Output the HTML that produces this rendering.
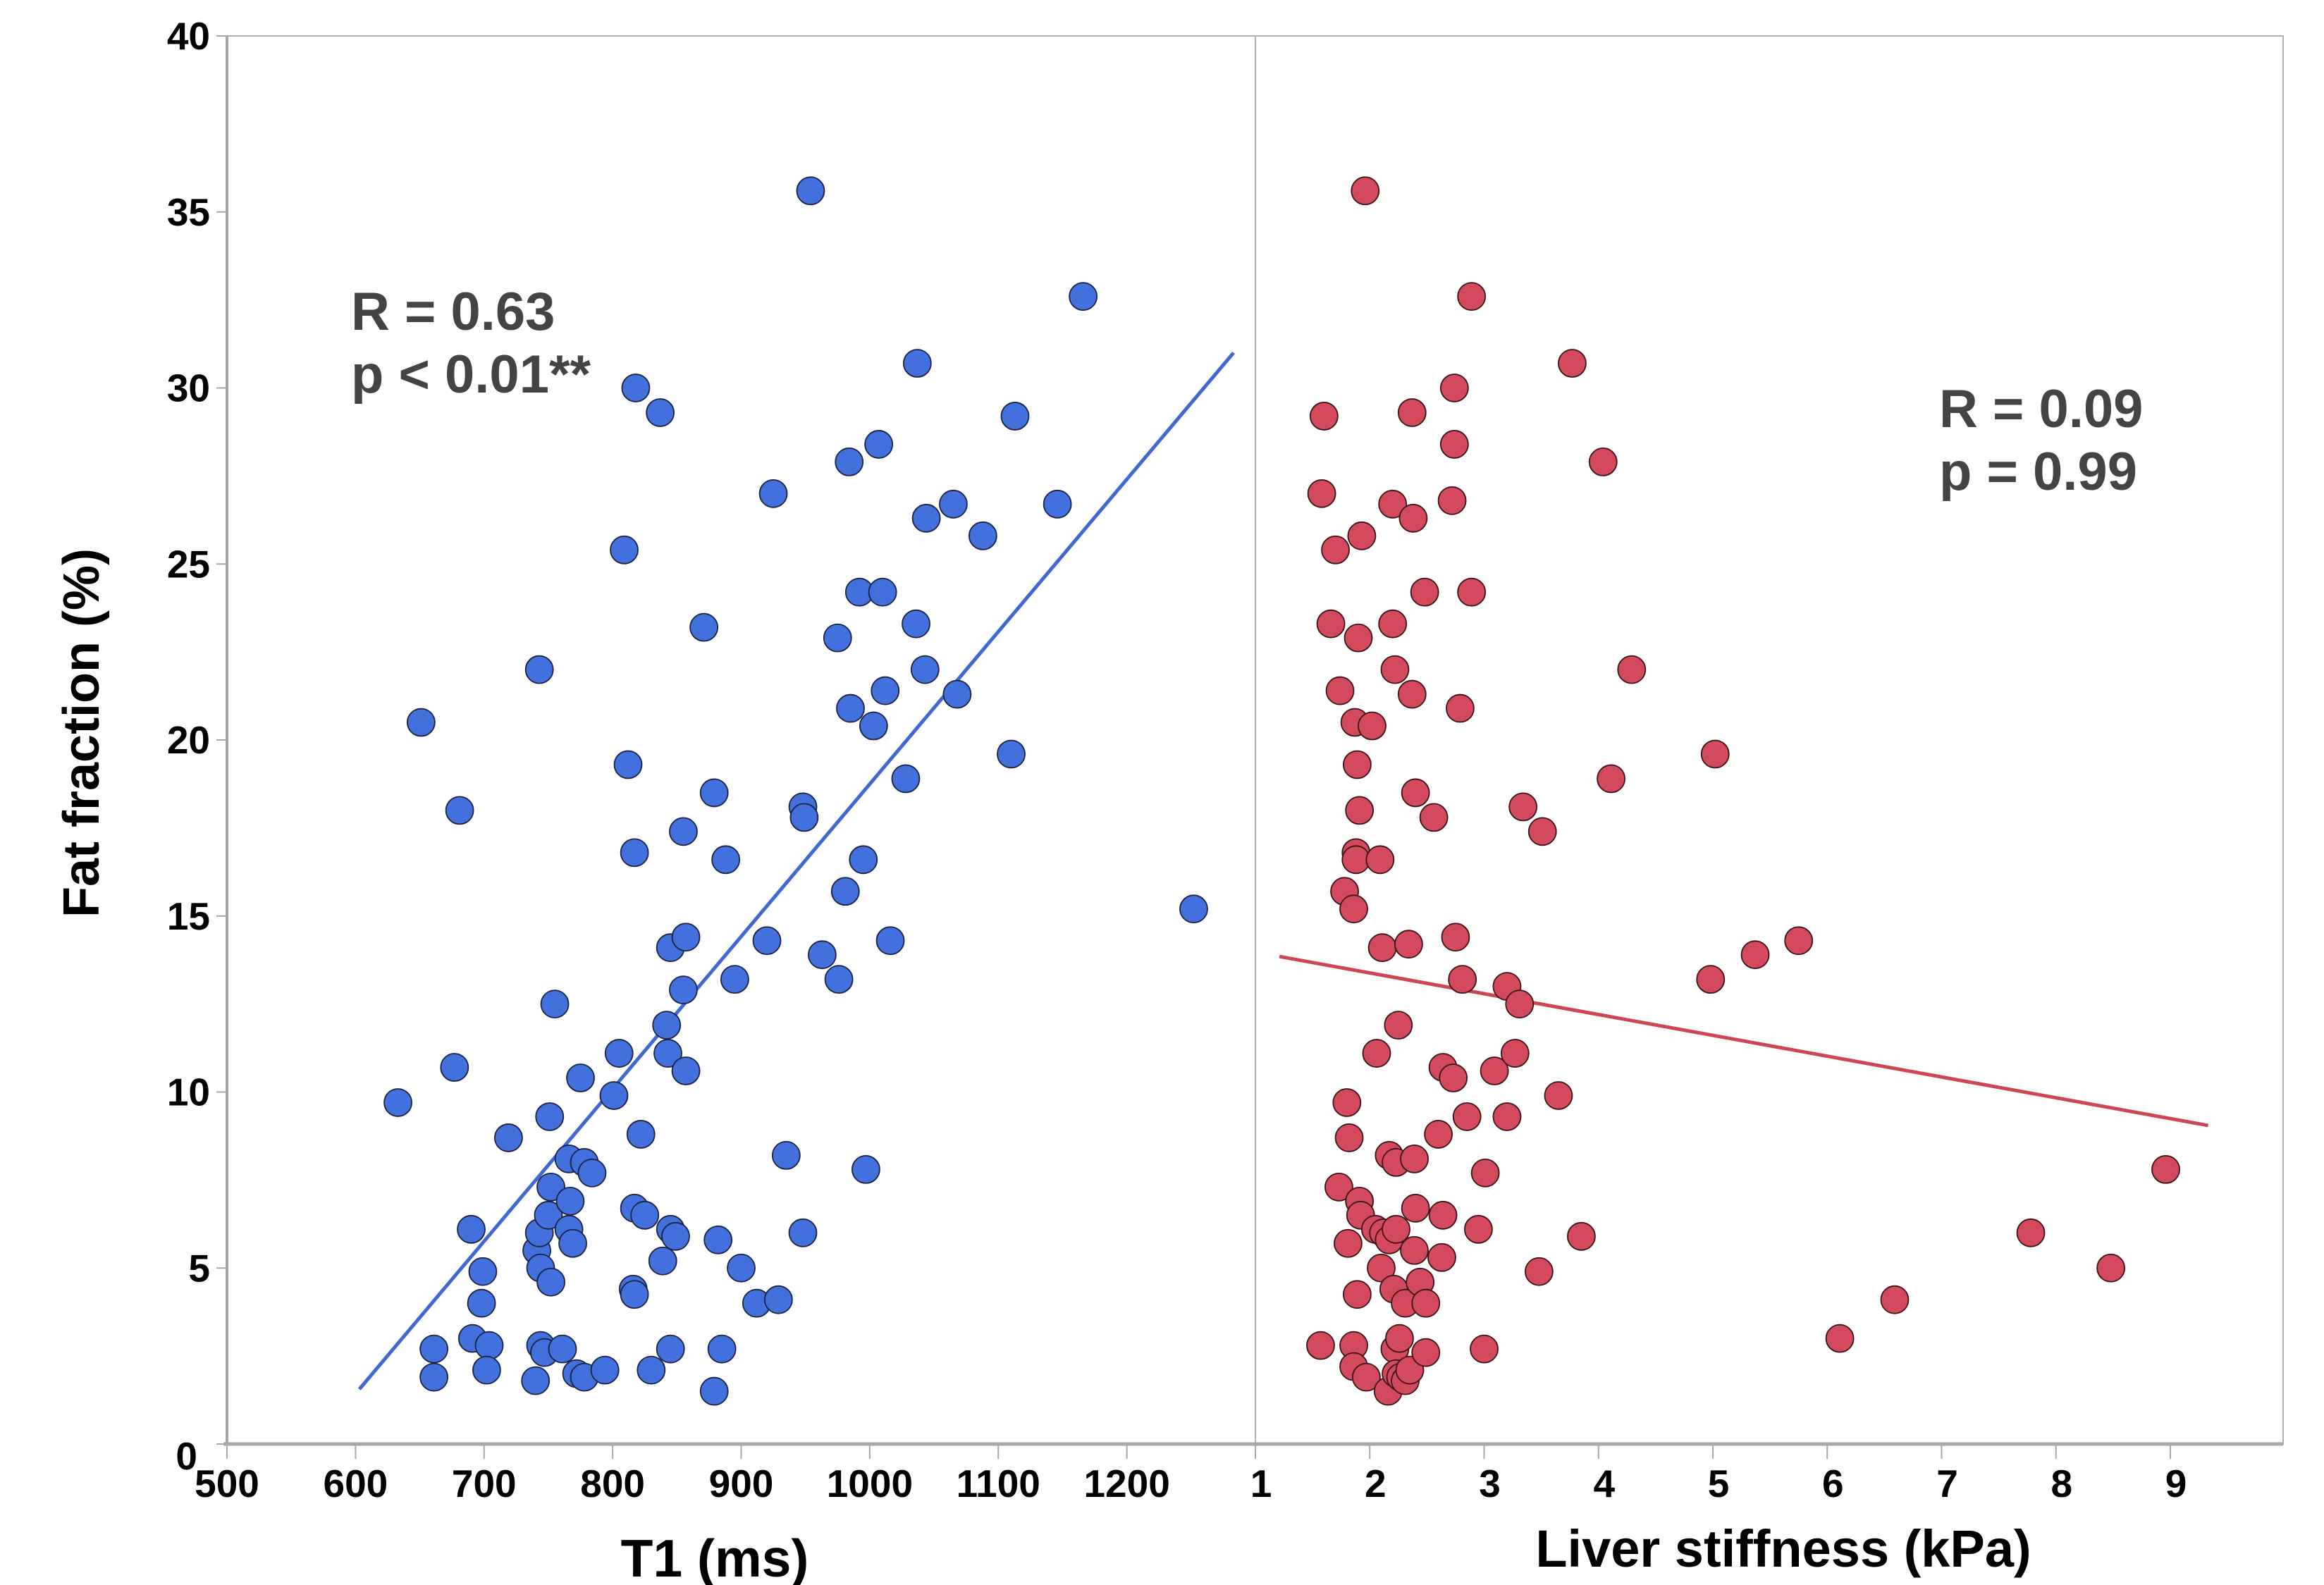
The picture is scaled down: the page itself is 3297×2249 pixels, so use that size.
<!DOCTYPE html>
<html><head><meta charset="utf-8"><style>
html,body{margin:0;padding:0;background:#fff}
svg{display:block}
text{font-family:"Liberation Sans",Arial,sans-serif;font-weight:bold}
</style></head><body>
<svg id="chart" width="3297" height="2249" viewBox="0 0 3297 2249" xmlns="http://www.w3.org/2000/svg">
<g id="axes"></g>
<g id="lines"></g>
<g id="pts"></g>
<g id="labels"></g>
</svg>
<script>
const t1Values=[633,651,661,661,681,677,690,691,699,698,704,702,719,743,741,743,744,740,744,747,750,751,752,752,755,761,766,767,766,769,772,778,775,778,784,794,801,805,809,812,817,817,818,816,817,822,825,830,837,839,842,843,845,845,849,845,855,855,857,857,871,879,882,879,885,888,895,900,912,920,925,929,935,948,949,948,954,963,975,976,981,984,985,992,995,997,1003,1007,1010,1012,1016,1028,1036,1037,1043,1044,1065,1068,1088,1110,1113,1146,1166,1252];
const t1Fat=[9.7,20.5,1.9,2.7,18,10.7,6.1,3.0,4.9,4.0,2.8,2.1,8.7,22,5.5,6.0,5.0,1.8,2.8,2.6,6.5,9.3,7.3,4.6,12.5,2.7,8.1,6.9,6.1,5.7,2.0,8.0,10.4,1.9,7.7,2.1,9.9,11.1,25.4,19.3,16.8,6.7,30,4.4,4.25,8.8,6.5,2.1,29.3,5.2,11.9,11.1,14.1,6.1,5.9,2.7,17.4,12.9,14.4,10.6,23.2,18.5,5.8,1.5,2.7,16.6,13.2,5.0,4.0,14.3,27.0,4.1,8.2,18.1,17.8,6.0,35.6,13.9,22.9,13.2,15.7,27.9,20.9,24.2,16.6,7.8,20.4,28.4,24.2,21.4,14.3,18.9,23.3,30.7,22.0,26.3,26.7,21.3,25.8,19.6,29.2,26.7,32.6,15.2];
const lsValues=[1.57,1.58,1.60,1.66,1.70,1.74,1.73,1.78,1.80,1.81,1.82,1.86,1.86,1.87,1.88,1.88,1.89,1.90,1.89,1.91,1.91,1.92,1.86,1.93,1.96,1.97,2.02,2.05,2.06,2.09,2.10,2.11,2.12,2.16,2.17,2.17,2.20,2.20,2.21,2.22,2.23,2.23,2.22,2.23,2.25,2.26,2.27,2.31,2.31,2.34,2.35,2.37,2.37,2.38,2.39,2.40,2.39,2.40,2.44,2.48,2.49,2.49,2.56,2.60,2.63,2.64,2.64,2.72,2.73,2.74,2.74,2.75,2.79,2.81,2.85,2.89,2.89,2.95,3.00,3.01,3.09,3.20,3.20,3.27,3.31,3.34,3.48,3.51,3.65,3.77,3.85,4.04,4.11,4.29,4.98,5.02,5.37,5.75,6.11,6.59,7.78,8.48,8.96];
const lsFat=[2.8,27.0,29.2,23.3,25.4,21.4,7.3,15.7,9.7,5.7,8.7,2.8,15.2,20.5,16.8,16.6,19.3,22.9,4.25,18.0,6.9,6.5,2.2,25.8,35.6,1.9,20.4,6.1,11.1,16.6,5.0,14.1,6.0,1.5,8.2,5.8,26.7,23.3,4.4,22.0,8.0,6.1,2.7,2.0,11.9,3.0,1.9,4.0,1.8,14.2,2.1,29.3,21.3,26.3,8.1,6.7,5.5,18.5,4.6,24.2,4.0,2.6,17.8,8.8,5.3,10.7,6.5,26.8,10.4,30,28.4,14.4,20.9,13.2,9.3,32.6,24.2,6.1,2.7,7.7,10.6,13.0,9.3,11.1,12.5,18.1,4.9,17.4,9.9,30.7,5.9,27.9,18.9,22.0,13.2,19.6,13.9,14.3,3.0,4.1,6.0,5.0,7.8];
const t1Fit=[[603,1.56],[1283,31.0]];
const lsFit=[[1.21,13.85],[9.33,9.05]];
const yTicks=[0,5,10,15,20,25,30,35,40];
const t1Ticks=[500,600,700,800,900,1000,1100,1200];
const lsTicks=[1,2,3,4,5,6,7,8,9];

const NS="http://www.w3.org/2000/svg";
const X0=322, XD=1781, XR=3239;
function xT(t){return X0+(t-500)*(XD-X0)/800;}
function xL(v){return XD+(v-1)*162.25;}
function yF(f){return 2049-f*49.95;}
function mk(tag,attrs,parent,txt){const e=document.createElementNS(NS,tag);for(const k in attrs)e.setAttribute(k,attrs[k]);if(txt!==undefined)e.textContent=txt;parent.appendChild(e);return e;}
const axes=document.getElementById('axes'),lines=document.getElementById('lines'),pts=document.getElementById('pts'),labels=document.getElementById('labels');

let r=mk('rect',{x:X0,y:51,width:XR-X0,height:1998,fill:'none',stroke:'#b0b0b0','stroke-width':2},axes);


let d=mk('line',{x1:XD,y1:51,x2:XD,y2:2049,stroke:'#b0b0b0','stroke-width':2},axes);


let ya=mk('line',{x1:X0,y1:51,x2:X0,y2:2049,stroke:'#a8a8a8','stroke-width':4},axes);


let xa=mk('line',{x1:X0-5,y1:2049,x2:XR,y2:2049,stroke:'#a8a8a8','stroke-width':5},axes);



yTicks.forEach(v=>{
  const y=yF(v);
  let tk=mk('line',{x1:X0-15,y1:y,x2:X0,y2:y,stroke:'#a8a8a8','stroke-width':2},axes);
  
  
  let t=mk('text',{x:v===0?280:298,y:v===0?y+36:y+19,'font-size':55,'text-anchor':'end',fill:'#000'},axes,String(v));
  
  
});
t1Ticks.forEach(v=>{
  const x=xT(v);
  let tk=mk('line',{x1:x,y1:2049,x2:x,y2:2070,stroke:'#a8a8a8','stroke-width':2},axes);
  
  
  let t=mk('text',{x:x,y:2124,'font-size':55,'text-anchor':'middle',fill:'#000'},axes,String(v));
  
  
});
lsTicks.forEach(v=>{
  const x=xL(v);
  let tk=mk('line',{x1:x,y1:2049,x2:x,y2:2070,stroke:'#a8a8a8','stroke-width':2},axes);
  
  
  let t=mk('text',{x:x+8,y:2124,'font-size':55,'text-anchor':'middle',fill:'#000'},axes,String(v));
  
  
});

let l1=mk('line',{x1:xT(t1Fit[0][0]),y1:yF(t1Fit[0][1]),x2:xT(t1Fit[1][0]),y2:yF(t1Fit[1][1]),stroke:'#3f68d4','stroke-width':5},lines);


let l2=mk('line',{x1:xL(lsFit[0][0]),y1:yF(lsFit[0][1]),x2:xL(lsFit[1][0]),y2:yF(lsFit[1][1]),stroke:'#cc4656','stroke-width':5},lines);



t1Values.forEach((v,i)=>{
  let c=mk('circle',{cx:xT(v),cy:yF(t1Fat[i]),r:19.5,fill:'#4271dd',stroke:'#1c2240','stroke-width':1.8},pts);
  
  
});
lsValues.forEach((v,i)=>{
  let c=mk('circle',{cx:xL(v),cy:yF(lsFat[i]),r:19.5,fill:'#d24a5b',stroke:'#3a1418','stroke-width':1.8},pts);
  
  
});

function lab(name,x,y,size,txt,fill,anchor,rot){
  const a={x:x,y:y,'font-size':size,fill:fill,'text-anchor':anchor||'start'};
  if(rot)a.transform=rot;
  let t=mk('text',a,labels,txt);
  
  
}
lab('t1-r-value',498,468,76,'R = 0.63','#444');
lab('t1-p-value',498,557,76,'p < 0.01**','#444');
lab('stiffness-r-value',2751,606,76,'R = 0.09','#444');
lab('stiffness-p-value',2751,695,76,'p = 0.99','#444');
lab('t1-axis-title',1014,2237,75,'T1 (ms)','#000','middle');
lab('stiffness-axis-title',2530,2223,74,'Liver stiffness (kPa)','#000','middle');
lab('y-axis-title',140,1040,72,'Fat fraction (%)','#000','middle','rotate(-90 140 1040)');
</script>
</body></html>
